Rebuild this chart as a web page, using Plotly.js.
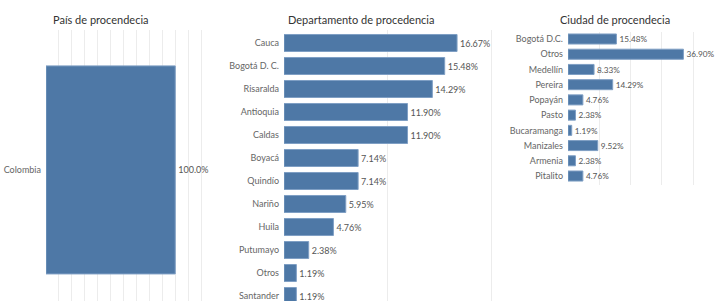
<!DOCTYPE html>
<html><head><meta charset="utf-8">
<script src="https://cdn.plot.ly/plotly-3.0.1.min.js"></script>
<style>body{margin:0;background:#fff}#c{width:717px;height:301px}</style>
</head><body><div id="c"></div>
<script>
const paisCats = ["Colombia"];
const paisVals = [100.0];
const deptCats = ["Cauca","Bogotá D. C.","Risaralda","Antioquia","Caldas","Boyacá","Quindío","Nariño","Huila","Putumayo","Otros","Santander"];
const deptVals = [16.67,15.48,14.29,11.90,11.90,7.14,7.14,5.95,4.76,2.38,1.19,1.19];
const ciudadCats = ["Bogotá D.C.","Otros","Medellín","Pereira","Popayán","Pasto","Bucaramanga","Manizales","Armenia","Pitalito"];
const ciudadVals = [15.48,36.90,8.33,14.29,4.76,2.38,1.19,9.52,2.38,4.76];
const titles = ["País de procendecia","Departamento de procedencia","Ciudad de procendecia"];

const W=717,H=301;
const barColor="#4e78a6", lineColor="#7f9fc4";
const txtFont={family:"Lato, 'Open Sans', sans-serif",size:9,color:"#555"};
const tickFont={family:"Lato, 'Open Sans', sans-serif",size:9,color:"#666"};
const grid="#ececec";

function bar(cats,vals,ax,w,fmt){
  return {type:"bar",orientation:"h",y:cats,x:vals,xaxis:"x"+ax,yaxis:"y"+ax,
    marker:{color:barColor,line:{color:lineColor,width:1}},width:w,
    text:vals.map(v=>v.toFixed(fmt)+"%"),textposition:"outside",cliponaxis:false,
    textfont:txtFont,hoverinfo:"skip"};
}
const data=[
  bar(paisCats,paisVals,"",0.8,1),
  bar(deptCats,deptVals,"2",0.74,2),
  bar(ciudadCats,ciudadVals,"3",0.66,2)
];
function xa(l,r,range,dtick){return {domain:[l/W,r/W],range:range,showgrid:true,gridcolor:grid,gridwidth:1,zeroline:false,
  tick0:0,dtick:dtick,showticklabels:false,ticks:"",showline:false,fixedrange:true};}
function ya(top,bot,range,cats){return {domain:[1-bot/H,1-top/H],range:range,type:"category",categoryarray:cats,categoryorder:"array",
  showgrid:false,zeroline:false,showline:false,ticks:"",ticklabelstandoff:4,tickfont:tickFont,fixedrange:true};}
const layout={
  width:W,height:H,margin:{l:0,r:0,t:0,b:0},paper_bgcolor:"#fff",plot_bgcolor:"rgba(0,0,0,0)",
  showlegend:false,bargap:0,
  xaxis:xa(46,214,[0,130],10),
  yaxis:Object.assign(ya(30,301,[-0.504,0.538],paisCats),{anchor:"x"}),
  xaxis2:Object.assign(xa(284,502,[0,21],10),{anchor:"y2"}),
  yaxis2:Object.assign(ya(30,301,[11.217,-0.565],deptCats),{anchor:"x2"}),
  xaxis3:Object.assign(xa(568,715,[0,47],10),{anchor:"y3"}),
  yaxis3:Object.assign(ya(32,185,[9.59,-0.46],ciudadCats),{anchor:"x3"}),
  annotations:[
    {text:titles[0],x:101/W,y:1-20/H},
    {text:titles[1],x:361/W,y:1-20/H},
    {text:titles[2],x:615/W,y:1-20/H}
  ].map(a=>Object.assign(a,{xref:"paper",yref:"paper",showarrow:false,xanchor:"center",yanchor:"middle",
     font:{family:"Lato, 'Open Sans', sans-serif",size:11,color:"#333"}}))
};
layout.yaxis.anchor="x";layout.xaxis.anchor="y";
Plotly.newPlot("c",data,layout,{displayModeBar:false,staticPlot:true});
</script></body></html>
